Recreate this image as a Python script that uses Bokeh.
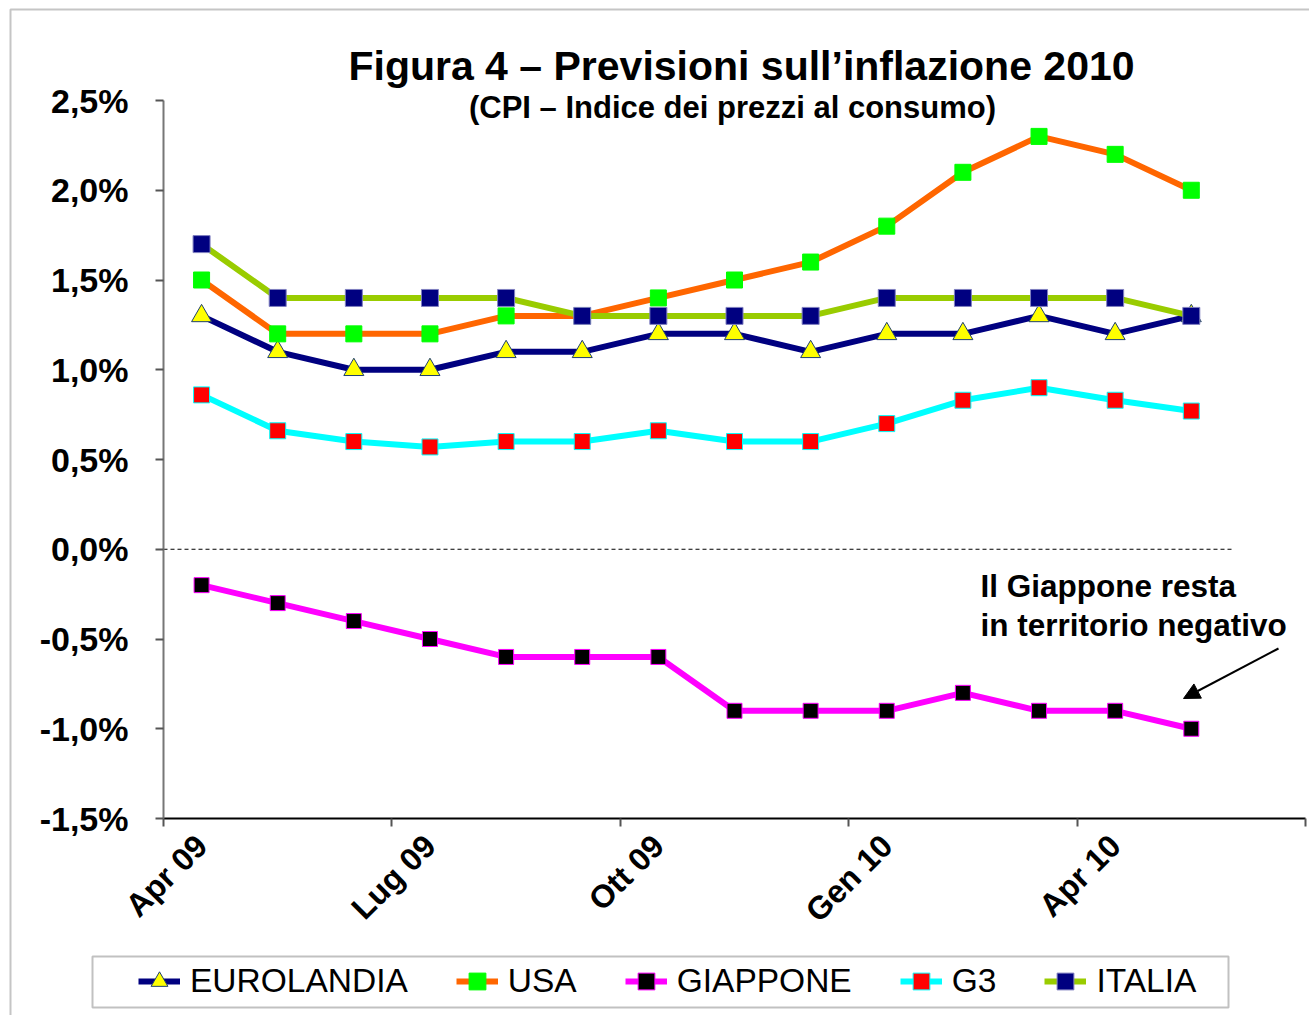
from bokeh.plotting import figure
from bokeh.models import Range1d, FixedTicker, Legend, LegendItem, Label, Arrow, NormalHead, BoxAnnotation
from bokeh.embed import file_html
from bokeh.resources import INLINE

# ---- data ----
months = ["Apr 09", "Mag 09", "Giu 09", "Lug 09", "Ago 09", "Set 09", "Ott 09",
          "Nov 09", "Dic 09", "Gen 10", "Feb 10", "Mar 10", "Apr 10", "Mag 10"]
tick_labels = ["Apr 09", "Lug 09", "Ott 09", "Gen 10", "Apr 10"]
eurolandia = [1.3, 1.1, 1.0, 1.0, 1.1, 1.1, 1.2, 1.2, 1.1, 1.2, 1.2, 1.3, 1.2, 1.3]
usa = [1.5, 1.2, 1.2, 1.2, 1.3, 1.3, 1.4, 1.5, 1.6, 1.8, 2.1, 2.3, 2.2, 2.0]
giappone = [-0.2, -0.3, -0.4, -0.5, -0.6, -0.6, -0.6, -0.9, -0.9, -0.9, -0.8, -0.9, -0.9, -1.0]
g3 = [0.86, 0.66, 0.6, 0.57, 0.6, 0.6, 0.66, 0.6, 0.6, 0.7, 0.83, 0.9, 0.83, 0.77]
italia = [1.7, 1.4, 1.4, 1.4, 1.4, 1.3, 1.3, 1.3, 1.3, 1.4, 1.4, 1.4, 1.4, 1.3]
y_ticks = [-1.5, -1.0, -0.5, 0.0, 0.5, 1.0, 1.5, 2.0, 2.5]

n_slots = len(months) + 1
x = [i + 0.5 for i in range(len(months))]

FONT = "Liberation Sans"
W, H = 1309, 1015
# plot area (axes box) in canvas pixels
AX_L, AX_R, AX_T, AX_B = 163, 1305, 100, 818
XPX = (AX_R - AX_L) / n_slots
YPX = (AX_B - AX_T) / (y_ticks[-1] - y_ticks[0])
x_start = -AX_L / XPX
x_end = n_slots + (W - AX_R) / XPX
y_end = y_ticks[-1] + AX_T / YPX
y_start = y_ticks[0] - (H - AX_B) / YPX


def px_x(px):
    return x_start + px / XPX


def px_y(py):
    return y_end - py / YPX


p = figure(width=W, height=H, output_backend="svg", toolbar_location=None,
           x_range=Range1d(x_start, x_end), y_range=Range1d(y_start, y_end),
           min_border=0, min_border_left=0, min_border_right=0, min_border_top=0,
           min_border_bottom=0, title=None)
p.border_fill_color = "white"
p.background_fill_color = "white"
p.outline_line_color = None
p.grid.visible = False

# outer border (top and left visible)
p.add_layout(BoxAnnotation(left=px_x(10), top=px_y(9), right=x_end + 1, bottom=y_start - 1,
                           fill_color=None, line_color="#404040", line_width=2))

# x axis
lab_pos = [x[months.index(m)] for m in tick_labels]
p.xaxis.fixed_location = y_ticks[0]
p.xaxis.bounds = (0, n_slots)
p.xaxis.ticker = FixedTicker(ticks=lab_pos, minor_ticks=list(range(0, n_slots + 1, 3)))
p.xaxis.major_label_overrides = {v: m for v, m in zip(lab_pos, tick_labels)}
p.xaxis.major_tick_line_color = None
p.xaxis.major_tick_out = 0
p.xaxis.minor_tick_out = 8
p.xaxis.minor_tick_in = 0
p.xaxis.minor_tick_line_color = "#555555"
p.xaxis.minor_tick_line_width = 2
p.xaxis.axis_line_color = "black"
p.xaxis.axis_line_width = 2
p.xaxis.major_label_orientation = 0.785398
p.xaxis.major_label_text_font = FONT
p.xaxis.major_label_text_font_style = "bold"
p.xaxis.major_label_text_font_size = "32px"
p.xaxis.major_label_text_color = "black"
p.xaxis.major_label_standoff = 14

# y axis
p.yaxis.fixed_location = 0
p.yaxis.ticker = FixedTicker(ticks=y_ticks, minor_ticks=[])
p.yaxis.bounds = (y_ticks[0], y_ticks[-1])
p.yaxis.major_label_overrides = {v: ("%.1f%%" % v).replace(".", ",") for v in y_ticks}
p.yaxis.major_tick_out = 8
p.yaxis.major_tick_in = 0
p.yaxis.major_tick_line_color = "#555555"
p.yaxis.major_tick_line_width = 2
p.yaxis.axis_line_color = "#777777"
p.yaxis.axis_line_width = 2
p.yaxis.major_label_text_font = FONT
p.yaxis.major_label_text_font_style = "bold"
p.yaxis.major_label_text_font_size = "34px"
p.yaxis.major_label_text_color = "black"
p.yaxis.major_label_standoff = 27

# zero line
p.segment(x0=0, y0=0, x1=len(months) + 0.05, y1=0, line_color="black", line_width=1, line_dash="4 3")

series = [
    ("EUROLANDIA", eurolandia, "#000080", "triangle", "#FFFF00", "#1F3F6F", 20),
    ("USA", usa, "#FF6600", "square", "#00FF00", "#00FF00", 16),
    ("GIAPPONE", giappone, "#FF00FF", "square", "#000000", "#FF00FF", 15),
    ("G3", g3, "#00FFFF", "square", "#FF0000", "#00FFFF", 16),
    ("ITALIA", italia, "#99CC00", "square", "#000080", "#8080C0", 17),
]
items = []
for name, vals, lc, mk, fc, oc, sz in series:
    r1 = p.line(x, vals, line_color=lc, line_width=6)
    r2 = p.scatter(x, vals, marker=mk, size=sz, fill_color=fc, line_color=oc, line_width=1)
    items.append(LegendItem(label=name, renderers=[r1, r2]))

# legend frame
p.add_layout(BoxAnnotation(left=px_x(92), right=px_x(1228), top=px_y(956), bottom=px_y(1007),
                           fill_color="white", fill_alpha=1.0, line_color="#333333", line_width=2))
legend = Legend(items=items, orientation="horizontal", location=(138, H - 1006),
                label_text_font=FONT, label_text_font_size="33.5px", label_text_color="black",
                glyph_width=42, glyph_height=50, label_standoff=10, spacing=48, padding=0,
                border_line_color=None, background_fill_color=None, background_fill_alpha=0,
                margin=0)
p.add_layout(legend, "center")

# titles
p.add_layout(Label(x=px_x(741), y=px_y(65), text="Figura 4 \u2013 Previsioni sull\u2019inflazione 2010",
                   text_font=FONT, text_font_style="bold", text_font_size="41px",
                   text_align="center", text_baseline="alphabetic", text_color="black"))
p.add_layout(Label(x=px_x(732), y=px_y(107), text="(CPI \u2013 Indice dei prezzi al consumo)",
                   text_font=FONT, text_font_style="bold", text_font_size="31px",
                   text_align="center", text_baseline="alphabetic", text_color="black"))

# annotation
p.add_layout(Label(x=px_x(980), y=px_y(585), text="Il Giappone resta", text_font=FONT,
                   text_font_style="bold", text_font_size="31.5px", text_baseline="alphabetic",
                   text_color="black"))
p.add_layout(Label(x=px_x(980), y=px_y(624), text="in territorio negativo", text_font=FONT,
                   text_font_style="bold", text_font_size="31.5px", text_baseline="alphabetic",
                   text_color="black"))
p.add_layout(Arrow(x_start=px_x(1278), y_start=px_y(648), x_end=px_x(1183), y_end=px_y(698),
                   line_color="black", line_width=2,
                   end=NormalHead(size=16, fill_color="black", line_color="black")))

open("out.html", "w").write(file_html(p, INLINE))
